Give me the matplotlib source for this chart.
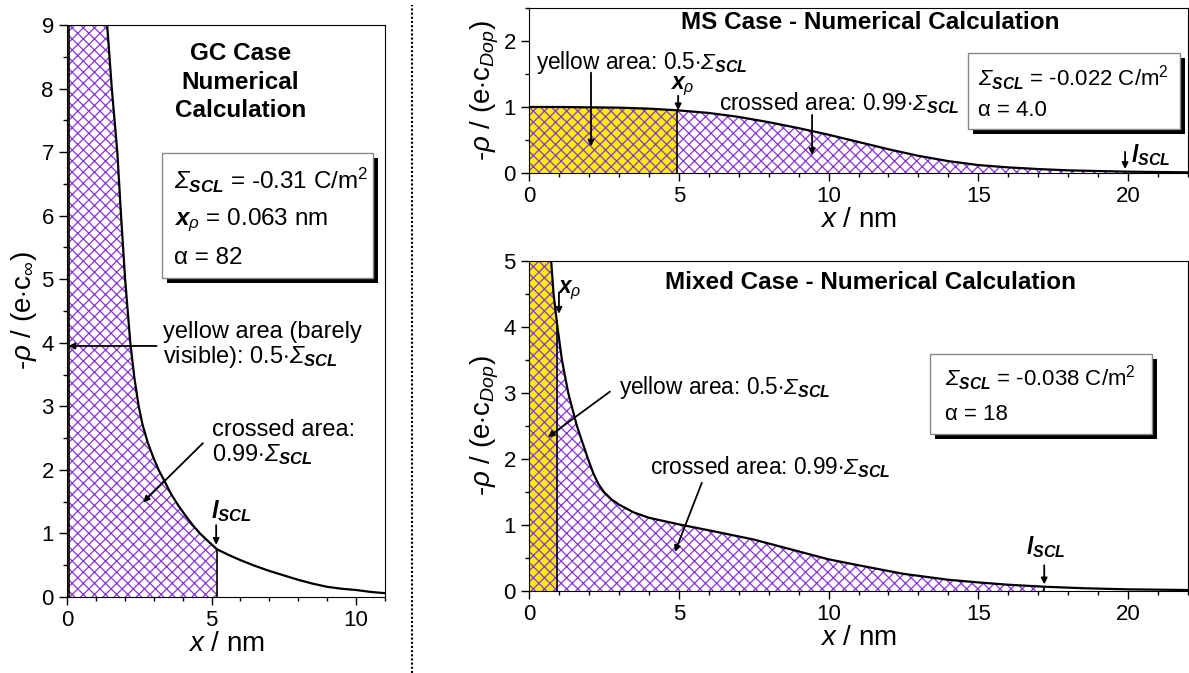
import numpy as np
import matplotlib
matplotlib.use("Agg")
import matplotlib.pyplot as plt
from matplotlib.patches import Rectangle
from matplotlib.lines import Line2D
from matplotlib.ticker import MultipleLocator
from matplotlib.transforms import offset_copy

plt.rcParams['font.family'] = 'Liberation Sans'
plt.rcParams['mathtext.fontset'] = 'custom'
plt.rcParams['mathtext.rm'] = 'Liberation Sans'
plt.rcParams['mathtext.it'] = 'Liberation Sans:italic'
plt.rcParams['mathtext.bf'] = 'Liberation Sans:bold:italic'
# sf slot holds the italic face so that capital Sigma can be slanted
plt.rcParams['mathtext.sf'] = 'Liberation Sans:italic'
plt.rcParams['hatch.linewidth'] = 0.9

# space charge density profiles (-rho, normalised) vs distance x in nm
gc_x = np.array([0.0, 0.3, 0.6, 1.0, 1.39, 1.55, 1.74, 1.87, 2.01, 2.19, 2.33, 2.48, 2.62,
                 2.8, 3.0, 3.17, 3.4, 3.6, 3.85, 4.1, 4.35, 4.6, 4.9, 5.19, 5.6, 6.0,
                 6.5, 7.0, 7.5, 8.0, 8.5, 9.0, 9.5, 10.0, 10.5, 11.0])
gc_y = np.array([60, 30, 18, 12, 9.0, 8.0, 7.0, 6.0, 5.0, 4.0, 3.45, 3.0, 2.7,
                 2.42, 2.18, 2.0, 1.8, 1.62, 1.44, 1.28, 1.13, 1.0, 0.87, 0.75, 0.66, 0.58,
                 0.49, 0.41, 0.34, 0.27, 0.21, 0.16, 0.13, 0.11, 0.08, 0.06])

ms_x = np.array([0, 1, 2, 3, 4, 4.95, 6, 7, 8, 9, 10, 11, 12, 13, 14, 15, 16,
                 17, 18, 19, 20, 21, 22])
ms_y = np.array([1.0, 1.0, 0.995, 0.99, 0.975, 0.95, 0.91, 0.85, 0.77, 0.68, 0.58,
                 0.47, 0.36, 0.26, 0.18, 0.12, 0.085, 0.06, 0.04, 0.03, 0.02, 0.015, 0.01])

mx_x = np.array([0, 0.3, 0.6, 0.74, 0.82, 0.95, 1.1, 1.31, 1.6, 1.97, 2.15, 2.32, 2.5,
                 2.75, 3.0, 3.5, 4.0, 4.5, 5.0, 6.0, 7.5, 9.0, 10.0, 11.0, 12.5, 14.0,
                 15.0, 16.0, 17.2, 18.5, 20.0, 22.0])
mx_y = np.array([8, 6.5, 5.5, 5.0, 4.5, 4.0, 3.5, 3.0, 2.5, 2.0, 1.78, 1.62, 1.5,
                 1.39, 1.31, 1.19, 1.11, 1.06, 1.01, 0.92, 0.78, 0.6, 0.48, 0.39, 0.26,
                 0.17, 0.13, 0.095, 0.065, 0.042, 0.025, 0.015])

# x_rho (half of Sigma_SCL) and l_SCL (99 % of Sigma_SCL) for each case
gc_xrho, gc_lscl = 0.063, 5.19
ms_xrho, ms_lscl = 4.95, 19.9
mx_xrho, mx_lscl = 0.95, 17.2

YELLOW = '#ffee00'
PURPLE = '#8a35dc'
SIG = r'$\mathsf{Σ}_{\mathbf{SCL}}$'
LSCL = r'$\mathbf{l}_{\mathbf{SCL}}$'
XRHO = r'$\mathbf{x}_{\rho}$'

fig = plt.figure(figsize=(11.89, 6.73), dpi=100)
W, H = 1189, 673

ax_gc = fig.add_axes([67 / W, (H - 597) / H, 318 / W, 572 / H])
ax_ms = fig.add_axes([529 / W, (H - 173) / H, 659 / W, 165 / H])
ax_mx = fig.add_axes([529 / W, (H - 591) / H, 659 / W, 330 / H])


def region(x, y, a, b):
    xs = np.r_[a, x[(x > a) & (x < b)], b]
    return xs, np.interp(xs, x, y)


def shade(ax, x, y, xrho, lscl):
    xs, ys = region(x, y, 0, lscl)
    ax.fill_between(xs, 0, ys, facecolor='white', edgecolor=PURPLE, hatch='xxx', linewidth=0)
    xs, ys = region(x, y, 0, xrho)
    ax.fill_between(xs, 0, ys, facecolor=YELLOW, edgecolor=PURPLE, hatch='xxx', linewidth=0)
    for b in (xrho, lscl):
        ax.plot([b, b], [0, np.interp(b, x, y)], color='black', lw=1.2)
    ax.plot(x, y, color='black', lw=1.6)


def style(ax, xmax, ymax, ymaj, ylabel):
    ax.set_xlim(0, xmax)
    ax.set_ylim(0, ymax)
    ax.xaxis.set_major_locator(MultipleLocator(5))
    ax.xaxis.set_minor_locator(MultipleLocator(1))
    ax.yaxis.set_major_locator(MultipleLocator(ymaj))
    ax.yaxis.set_minor_locator(MultipleLocator(0.5))
    ax.tick_params(which='both', direction='out', labelsize=16, width=1)
    ax.tick_params(which='major', length=6)
    ax.tick_params(which='minor', length=3)
    ax.set_xlabel(r'$x$ / nm', fontsize=20, labelpad=0)
    ax.set_ylabel(ylabel, fontsize=20, labelpad=2)


def box(ax, x0, y0, x1, y1, lines, size):
    shadow = offset_copy(ax.transAxes, fig=fig, x=5, y=-5, units='dots')
    ax.add_patch(Rectangle((x0, y0), x1 - x0, y1 - y0, transform=shadow,
                           facecolor='black', edgecolor='none', zorder=5, clip_on=False))
    ax.add_patch(Rectangle((x0, y0), x1 - x0, y1 - y0, transform=ax.transAxes,
                           facecolor='white', edgecolor='#888888', lw=1, zorder=6, clip_on=False))
    for (tx, ty, s) in lines:
        ax.text(tx, ty, s, transform=ax.transAxes, fontsize=size, va='center',
                ha='left', zorder=7)


def arrow(ax, xy, xytext):
    ax.annotate('', xy=xy, xytext=xytext,
                arrowprops=dict(arrowstyle='-|>', color='black', lw=1.3,
                                mutation_scale=9, shrinkA=0, shrinkB=0))


# GC case
shade(ax_gc, gc_x, gc_y, gc_xrho, gc_lscl)
style(ax_gc, 11, 9, 1, r'-$\rho$ / (e$\cdot$c$_{\infty}$)')
ax_gc.text(5.99, 8.1, 'GC Case\nNumerical\nCalculation', fontsize=17.5, fontweight='bold',
           ha='center', va='center', linespacing=1.3)
box(ax_gc, 0.299, 0.558, 0.962, 0.776,
    [(0.337, (597 - 180) / 572, SIG + ' = -0.31 C/m$^2$'),
     (0.337, (597 - 220) / 572, XRHO + ' = 0.063 nm'),
     (0.337, (597 - 258) / 572, r'α = 82')], 17.5)
ax_gc.text(3.33, 3.95, 'yellow area (barely\nvisible): 0.5$\\cdot$' + SIG,
           fontsize=17, ha='left', va='center', linespacing=1.05)
arrow(ax_gc, (0.05, 3.95), (3.1, 3.95))
ax_gc.text(5.0, 2.42, 'crossed area:\n0.99$\\cdot$' + SIG, fontsize=17,
           ha='left', va='center', linespacing=1.05)
arrow(ax_gc, (2.63, 1.49), (4.7, 2.42))
ax_gc.text(4.97, 1.35, LSCL, fontsize=17, ha='left', va='center')
arrow(ax_gc, (5.16, 0.82), (5.16, 1.13))

# MS case
shade(ax_ms, ms_x, ms_y, ms_xrho, ms_lscl)
style(ax_ms, 22, 2.5, 1, r'-$\rho$ / (e$\cdot$c$_{Dop}$)')
ax_ms.text(11.4, 2.28, 'MS Case - Numerical Calculation', fontsize=17.5,
           fontweight='bold', ha='center', va='center')
box(ax_ms, 0.666, 0.267, 0.988, 0.727,
    [(0.681, (173 - 78) / 165, SIG + ' = -0.022 C/m$^2$'),
     (0.681, (173 - 111) / 165, r'α = 4.0')], 16)
ax_ms.text(0.23, 1.68, 'yellow area: 0.5$\\cdot$' + SIG, fontsize=16.3,
           ha='left', va='center')
arrow(ax_ms, (2.07, 0.4), (2.07, 1.52))
ax_ms.text(4.7, 1.32, XRHO, fontsize=16.3, ha='left', va='center')
arrow(ax_ms, (4.98, 0.95), (4.98, 1.17))
ax_ms.text(6.34, 1.06, 'crossed area: 0.99$\\cdot$' + SIG, fontsize=16.3,
           ha='left', va='center')
arrow(ax_ms, (9.45, 0.27), (9.45, 0.88))
ax_ms.text(20.1, 0.27, LSCL, fontsize=16.3, ha='left', va='center')
arrow(ax_ms, (19.9, 0.06), (19.9, 0.32))

# Mixed case
shade(ax_mx, mx_x, mx_y, mx_xrho, mx_lscl)
style(ax_mx, 22, 5, 1, r'-$\rho$ / (e$\cdot$c$_{Dop}$)')
ax_mx.text(11.4, 4.67, 'Mixed Case - Numerical Calculation', fontsize=17.5,
           fontweight='bold', ha='center', va='center')
box(ax_mx, 0.608, 0.476, 0.945, 0.718,
    [(0.631, (591 - 378) / 330, SIG + ' = -0.038 C/m$^2$'),
     (0.631, (591 - 415) / 330, r'α = 18')], 16)
ax_mx.text(0.93, 4.55, XRHO, fontsize=16.3, ha='left', va='center')
arrow(ax_mx, (1.0, 4.2), (1.0, 4.52))
ax_mx.text(3.0, 3.08, 'yellow area: 0.5$\\cdot$' + SIG, fontsize=16.3,
           ha='left', va='center')
arrow(ax_mx, (0.63, 2.33), (2.7, 3.02))
ax_mx.text(4.03, 1.88, 'crossed area: 0.99$\\cdot$' + SIG, fontsize=16.3,
           ha='left', va='center')
arrow(ax_mx, (4.87, 0.59), (5.77, 1.64))
ax_mx.text(16.6, 0.67, LSCL, fontsize=16.3, ha='left', va='center')
arrow(ax_mx, (17.2, 0.1), (17.2, 0.39))

# dotted divider between the GC panel and the two right panels
fig.add_artist(Line2D([412 / W, 412 / W], [0, (H - 5) / H], color='black',
                      lw=1.5, linestyle=(0, (1, 1))))

fig.savefig('out.png', dpi=100)
